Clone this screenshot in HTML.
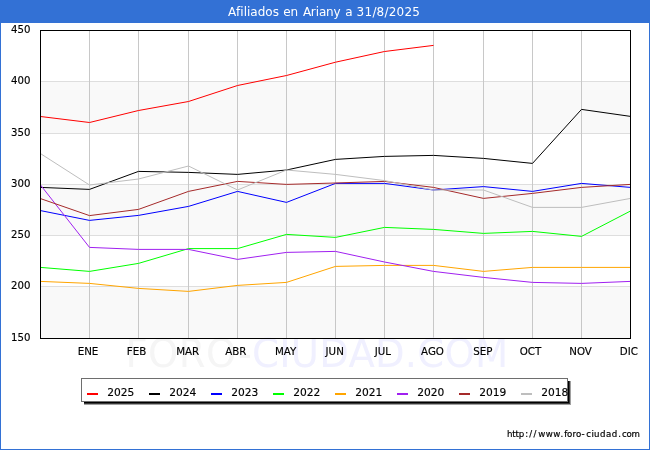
<!DOCTYPE html>
<html lang="es"><head><meta charset="utf-8"><title>Afiliados en Ariany a 31/8/2025</title>
<style>
html,body{margin:0;padding:0;background:#fff;}
body{width:650px;height:450px;overflow:hidden;}
svg{display:block;}
text{font-family:"DejaVu Sans","Liberation Sans",sans-serif;}
.lb text{stroke:#000;stroke-width:0.15px;}
</style></head><body>
<svg width="650" height="450" viewBox="0 0 650 450">
<rect x="0" y="0" width="650" height="450" fill="#ffffff"/>

<g shape-rendering="crispEdges">
<rect x="0" y="0" width="650" height="23" fill="#3371d5"/>
<rect x="0" y="0" width="1" height="450" fill="#3371d5"/>
<rect x="649" y="0" width="1" height="450" fill="#3371d5"/>
<rect x="0" y="449" width="650" height="1" fill="#3371d5"/>
<rect x="41" y="81" width="589" height="52" fill="#f9f9f9"/>
<rect x="41" y="184" width="589" height="51" fill="#f9f9f9"/>
<rect x="41" y="286" width="589" height="52" fill="#f9f9f9"/>
<rect x="41" y="81" width="589" height="1" fill="#dedede"/>
<rect x="41" y="133" width="589" height="1" fill="#dedede"/>
<rect x="41" y="184" width="589" height="1" fill="#dedede"/>
<rect x="41" y="235" width="589" height="1" fill="#dedede"/>
<rect x="41" y="286" width="589" height="1" fill="#dedede"/>
<rect x="89" y="31" width="1" height="307" fill="#c8c8c8"/>
<rect x="138" y="31" width="1" height="307" fill="#c8c8c8"/>
<rect x="188" y="31" width="1" height="307" fill="#c8c8c8"/>
<rect x="237" y="31" width="1" height="307" fill="#c8c8c8"/>
<rect x="286" y="31" width="1" height="307" fill="#c8c8c8"/>
<rect x="335" y="31" width="1" height="307" fill="#c8c8c8"/>
<rect x="384" y="31" width="1" height="307" fill="#c8c8c8"/>
<rect x="433" y="31" width="1" height="307" fill="#c8c8c8"/>
<rect x="483" y="31" width="1" height="307" fill="#c8c8c8"/>
<rect x="532" y="31" width="1" height="307" fill="#c8c8c8"/>
<rect x="581" y="31" width="1" height="307" fill="#c8c8c8"/>
</g>
<text x="125.4" y="367.2" font-size="38.5" fill="#f5f5f5" letter-spacing="0.5">FORO-<tspan x="252" fill="#f0f0ff" letter-spacing="0.25">CIUDAD.COM</tspan></text>
<polyline points="40.5,116.5 89.5,122.5 138.5,110.5 188.5,101.5 237.5,85.5 286.5,75.5 335.5,62.2 384.5,51.5 433.5,45.4" fill="none" stroke="#ff0000" stroke-width="1" stroke-linejoin="round"/>
<polyline points="40.5,187.4 89.5,189.4 138.5,171.4 188.5,172.4 237.5,174.4 286.5,170 335.5,159.4 384.5,156.4 433.5,155.4 483.5,158.4 532.5,163.4 581.5,109.4 630.5,116.4" fill="none" stroke="#000000" stroke-width="1" stroke-linejoin="round"/>
<polyline points="40.5,210.6 89.5,220.4 138.5,215.4 188.5,206.4 237.5,191.4 286.5,202.4 335.5,183.4 384.5,183.4 433.5,190 483.5,186.6 532.5,191.4 581.5,183.4 630.5,187.4" fill="none" stroke="#0000ff" stroke-width="1" stroke-linejoin="round"/>
<polyline points="40.5,267.4 89.5,271.4 138.5,263.4 188.5,248.6 237.5,248.6 286.5,234.4 335.5,237.4 384.5,227.4 433.5,229.4 483.5,233.4 532.5,231.4 581.5,236.4 630.5,211" fill="none" stroke="#00ff00" stroke-width="1" stroke-linejoin="round"/>
<polyline points="40.5,281.4 89.5,283.4 138.5,288.4 188.5,291.4 237.5,285.4 286.5,282.4 335.5,266.4 384.5,265.4 433.5,265.4 483.5,271.4 532.5,267.4 581.5,267.4 630.5,267.4" fill="none" stroke="#ffa500" stroke-width="1" stroke-linejoin="round"/>
<polyline points="40.5,185 89.5,247.4 138.5,249.4 188.5,249.4 237.5,259.4 286.5,252.4 335.5,251.4 384.5,262 433.5,271.4 483.5,277.4 532.5,282.4 581.5,283.4 630.5,281.4" fill="none" stroke="#a020f0" stroke-width="1" stroke-linejoin="round"/>
<polyline points="40.5,198.6 89.5,215.6 138.5,209.4 188.5,191.4 237.5,181.4 286.5,184.4 335.5,183 384.5,181.4 433.5,187.4 483.5,198.4 532.5,193.4 581.5,187.4 630.5,184.4" fill="none" stroke="#a52a2a" stroke-width="1" stroke-linejoin="round"/>
<polyline points="40.5,153.6 89.5,185 138.5,179 188.5,166 237.5,190 286.5,170 335.5,174.4 384.5,180.6 433.5,190 483.5,190 532.5,207.4 581.5,207.4 630.5,198.4" fill="none" stroke="#bebebe" stroke-width="1" stroke-linejoin="round"/>
<g shape-rendering="crispEdges" fill="#000">
<rect x="40" y="30" width="591" height="1"/><rect x="40" y="338" width="591" height="1"/><rect x="40" y="30" width="1" height="309"/><rect x="630" y="30" width="1" height="309"/>
</g>
<text x="227.90 236.11 240.33 243.67 247.00 250.34 257.69 265.31 272.65 278.90 283.20 290.58 298.19 302.90 310.86 315.65 318.88 326.02 333.39 340.28 345.30 352.65 356.60 364.49 372.39 376.57 384.46 388.64 396.54 404.43 412.33" y="15.5" font-size="12" fill="#ffffff">Afiliados en Ariany a 31/8/2025</text>
<g class="lb">
<text x="30.5" y="32.8" font-size="10.67" fill="#000" text-anchor="end" textLength="19.4" lengthAdjust="spacingAndGlyphs">450</text>
<text x="30.5" y="83.8" font-size="10.67" fill="#000" text-anchor="end" textLength="19.4" lengthAdjust="spacingAndGlyphs">400</text>
<text x="30.5" y="135.8" font-size="10.67" fill="#000" text-anchor="end" textLength="19.4" lengthAdjust="spacingAndGlyphs">350</text>
<text x="30.5" y="186.8" font-size="10.67" fill="#000" text-anchor="end" textLength="19.4" lengthAdjust="spacingAndGlyphs">300</text>
<text x="30.5" y="237.8" font-size="10.67" fill="#000" text-anchor="end" textLength="19.4" lengthAdjust="spacingAndGlyphs">250</text>
<text x="30.5" y="288.8" font-size="10.67" fill="#000" text-anchor="end" textLength="19.4" lengthAdjust="spacingAndGlyphs">200</text>
<text x="30.5" y="340.8" font-size="10.67" fill="#000" text-anchor="end" textLength="19.4" lengthAdjust="spacingAndGlyphs">150</text>
<text x="88.0" y="355.3" font-size="10.67" fill="#000" text-anchor="middle" textLength="20.7" lengthAdjust="spacingAndGlyphs">ENE</text>
<text x="136.5" y="355.3" font-size="10.67" fill="#000" text-anchor="middle" textLength="19.5" lengthAdjust="spacingAndGlyphs">FEB</text>
<text x="187.7" y="355.3" font-size="10.67" fill="#000" text-anchor="middle" textLength="23.1" lengthAdjust="spacingAndGlyphs">MAR</text>
<text x="235.9" y="355.3" font-size="10.67" fill="#000" text-anchor="middle" textLength="21.2" lengthAdjust="spacingAndGlyphs">ABR</text>
<text x="285.6" y="355.3" font-size="10.67" fill="#000" text-anchor="middle" textLength="21.4" lengthAdjust="spacingAndGlyphs">MAY</text>
<text x="334.7" y="355.3" font-size="10.67" fill="#000" text-anchor="middle" textLength="18.3" lengthAdjust="spacingAndGlyphs">JUN</text>
<text x="382.9" y="355.3" font-size="10.67" fill="#000" text-anchor="middle" textLength="16.3" lengthAdjust="spacingAndGlyphs">JUL</text>
<text x="432.5" y="355.3" font-size="10.67" fill="#000" text-anchor="middle" textLength="22.9" lengthAdjust="spacingAndGlyphs">AGO</text>
<text x="482.8" y="355.3" font-size="10.67" fill="#000" text-anchor="middle" textLength="19.2" lengthAdjust="spacingAndGlyphs">SEP</text>
<text x="530.5" y="355.3" font-size="10.67" fill="#000" text-anchor="middle" textLength="21.6" lengthAdjust="spacingAndGlyphs">OCT</text>
<text x="580.6" y="355.3" font-size="10.67" fill="#000" text-anchor="middle" textLength="22.6" lengthAdjust="spacingAndGlyphs">NOV</text>
<text x="628.8" y="355.3" font-size="10.67" fill="#000" text-anchor="middle" textLength="18.1" lengthAdjust="spacingAndGlyphs">DIC</text>
</g>
<g shape-rendering="crispEdges">
<rect x="84" y="381" width="487" height="24" fill="#a0a0a0"/>
<rect x="84" y="381" width="486" height="23" fill="#383838"/>
<rect x="84" y="381" width="485" height="22" fill="#000"/>
<rect x="81" y="378" width="487" height="24" fill="#6e6e6e"/>
<rect x="82" y="379" width="485" height="22" fill="#fff"/>
<rect x="87" y="393" width="11" height="2" fill="#ff0000"/>
<rect x="149" y="393" width="11" height="2" fill="#000000"/>
<rect x="211" y="393" width="11" height="2" fill="#0000ff"/>
<rect x="273" y="393" width="11" height="2" fill="#00ff00"/>
<rect x="335" y="393" width="11" height="2" fill="#ffa500"/>
<rect x="397" y="393" width="11" height="2" fill="#a020f0"/>
<rect x="459" y="393" width="11" height="2" fill="#a52a2a"/>
<rect x="521" y="393" width="11" height="2" fill="#bebebe"/>
</g>
<g class="lb">
<text x="107.2" y="396" font-size="10.67" fill="#000">2025</text>
<text x="169.2" y="396" font-size="10.67" fill="#000">2024</text>
<text x="231.2" y="396" font-size="10.67" fill="#000">2023</text>
<text x="293.2" y="396" font-size="10.67" fill="#000">2022</text>
<text x="355.2" y="396" font-size="10.67" fill="#000">2021</text>
<text x="417.2" y="396" font-size="10.67" fill="#000">2020</text>
<text x="479.2" y="396" font-size="10.67" fill="#000">2019</text>
<text x="541.2" y="396" font-size="10.67" fill="#000">2018</text>
</g>
<text transform="scale(0.92,1)" x="551.10 556.77 560.28 563.79 571.02 575.16 579.88 584.93 593.11 601.29 609.11 613.26 616.39 622.30 625.96 632.16 637.20 642.84 645.69 652.19 658.71 665.00 671.99 676.11 680.94 686.32" y="436.8" font-size="9.4" fill="#000" stroke="#000" stroke-width="0.2">http://www.foro-ciudad.com</text>
</svg></body></html>
